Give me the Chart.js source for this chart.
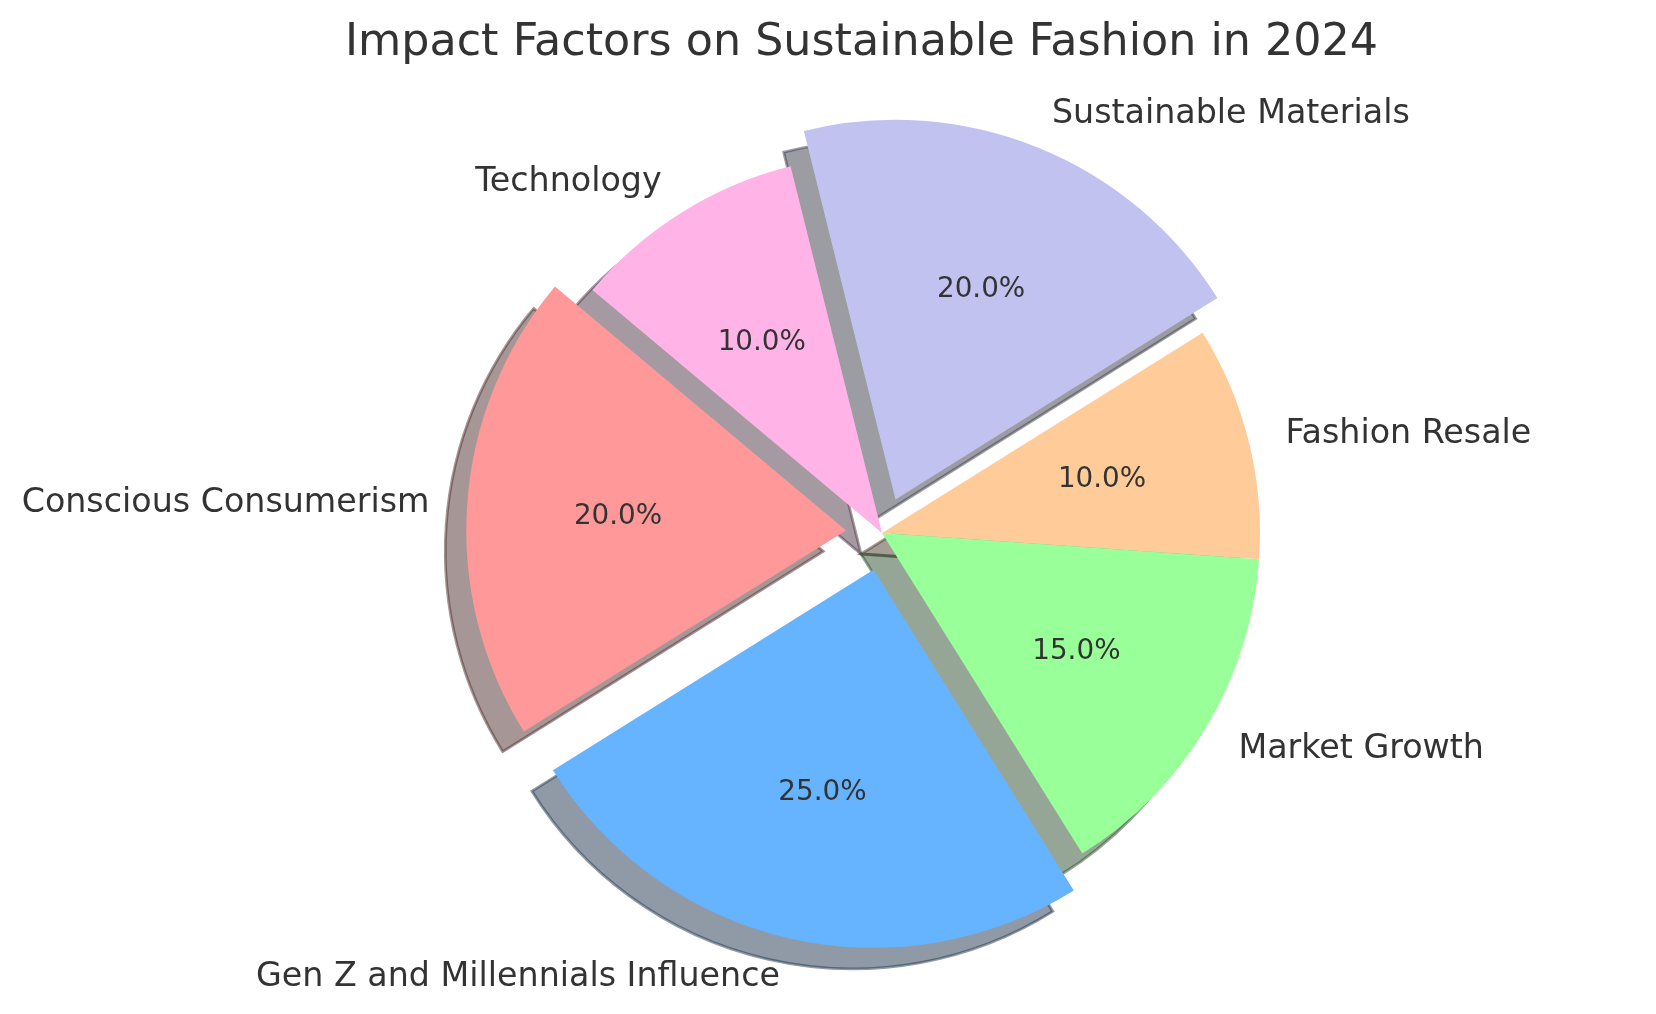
<!DOCTYPE html>
<html><head><meta charset="utf-8">
<script src="https://cdn.jsdelivr.net/npm/chart.js@4.4.1/dist/chart.umd.min.js"></script>
<style>html,body{margin:0;padding:0;background:#fff}canvas{display:block}</style>
</head><body>
<canvas id="c" width="1656" height="1014"></canvas>
<script>
// ---- data (matplotlib order, counter-clockwise) ----
const categories = ['Conscious Consumerism', 'Gen Z and Millennials Influence', 'Market Growth', 'Fashion Resale', 'Sustainable Materials', 'Technology'];
const shares = [20, 25, 15, 10, 20, 10];
const explode = [0.1, 0.1, 0, 0, 0.1, 0];
const colors = ['#ff9999', '#66b3ff', '#99ff99', '#ffcc99', '#c2c2f0', '#ffb3e6'];
const chartTitle = 'Impact Factors on Sustainable Fashion in 2024';

// ---- layout / style ----
const R = 378;
const TEXT = '#333333';
const FONT = "'DejaVu Sans', 'Liberation Sans', sans-serif";
const TEXT_DY = 2;
const total = shares.reduce((a, b) => a + b, 0);
// Chart.js draws clockwise, matplotlib counter-clockwise: reverse
const order = categories.map((_, i) => i).reverse();
function offsetFor(i) {
  const circ = shares[i] / total * 2 * Math.PI;
  const fix = 1 - Math.sin(Math.min(Math.PI, circ));
  return explode[i] * R * 4 / (1 + fix);
}
function shadowColor(hex) {
  const r = parseInt(hex.slice(1, 3), 16), g = parseInt(hex.slice(3, 5), 16), b = parseInt(hex.slice(5, 7), 16);
  return `rgba(${Math.round(r * 0.3)},${Math.round(g * 0.3)},${Math.round(b * 0.3)},0.5)`;
}
function geom(arc) {
  const p = arc.getProps(['x', 'y', 'startAngle', 'endAngle', 'circumference', 'outerRadius'], true);
  const off = (arc.options.offset || 0) / 4;
  const fix = 1 - Math.sin(Math.min(Math.PI, p.circumference || 0));
  const t = off * (1 + fix);
  const h = (p.startAngle + p.endAngle) / 2;
  return { ...p, h, cx: p.x + Math.cos(h) * t, cy: p.y + Math.sin(h) * t };
}
const SH = 21;

const piePlugin = {
  id: 'pieExtras',
  beforeDatasetsDraw(chart) {
    const ctx = chart.ctx;
    const meta = chart.getDatasetMeta(0);
    meta.data.forEach((arc, k) => {
      const g = geom(arc);
      const col = shadowColor(colors[order[k]]);
      ctx.save();
      ctx.beginPath();
      ctx.moveTo(g.cx - SH, g.cy + SH);
      ctx.arc(g.cx - SH, g.cy + SH, g.outerRadius, g.startAngle, g.endAngle);
      ctx.closePath();
      ctx.fillStyle = col;
      ctx.fill();
      ctx.lineWidth = 2.8;
      ctx.lineJoin = 'miter';
      ctx.strokeStyle = col;
      ctx.stroke();
      ctx.restore();
    });
  },
  afterDatasetsDraw(chart) {
    const ctx = chart.ctx;
    const meta = chart.getDatasetMeta(0);
    meta.data.forEach((arc, k) => {
      const i = order[k];
      const g = geom(arc);
      const c = Math.cos(g.h), s = Math.sin(g.h);
      ctx.save();
      ctx.fillStyle = TEXT;
      ctx.textBaseline = 'middle';
      ctx.font = `33.3px ${FONT}`;
      ctx.textAlign = c >= 0 ? 'left' : 'right';
      ctx.fillText(categories[i], g.cx + c * g.outerRadius * 1.1, g.cy + s * g.outerRadius * 1.1 + TEXT_DY);
      ctx.font = `27.8px ${FONT}`;
      ctx.textAlign = 'center';
      const pct = (shares[i] / total * 100).toFixed(1) + '%';
      ctx.fillText(pct, g.cx + c * g.outerRadius * 0.6, g.cy + s * g.outerRadius * 0.6 + TEXT_DY);
      ctx.restore();
    });
  },
  afterDraw(chart) {
    const ctx = chart.ctx;
    ctx.save();
    ctx.fillStyle = TEXT;
    ctx.font = `44.4px ${FONT}`;
    ctx.textAlign = 'center';
    ctx.textBaseline = 'alphabetic';
    ctx.fillText(chartTitle, 861.5, 54.5);
    ctx.restore();
  }
};

new Chart(document.getElementById('c'), {
  type: 'pie',
  data: {
    labels: order.map(i => categories[i]),
    datasets: [{
      data: order.map(i => shares[i]),
      backgroundColor: order.map(i => colors[i]),
      offset: order.map(i => offsetFor(i)),
      hoverOffset: 0,
      borderWidth: 0
    }]
  },
  options: {
    responsive: false,
    animation: false,
    devicePixelRatio: 1,
    events: [],
    rotation: -50,
    radius: R,
    layout: { padding: { left: 108, top: 52, right: 0, bottom: 0 } },
    plugins: { legend: { display: false }, tooltip: { enabled: false }, title: { display: false } }
  },
  plugins: [piePlugin]
});
</script>
</body></html>
